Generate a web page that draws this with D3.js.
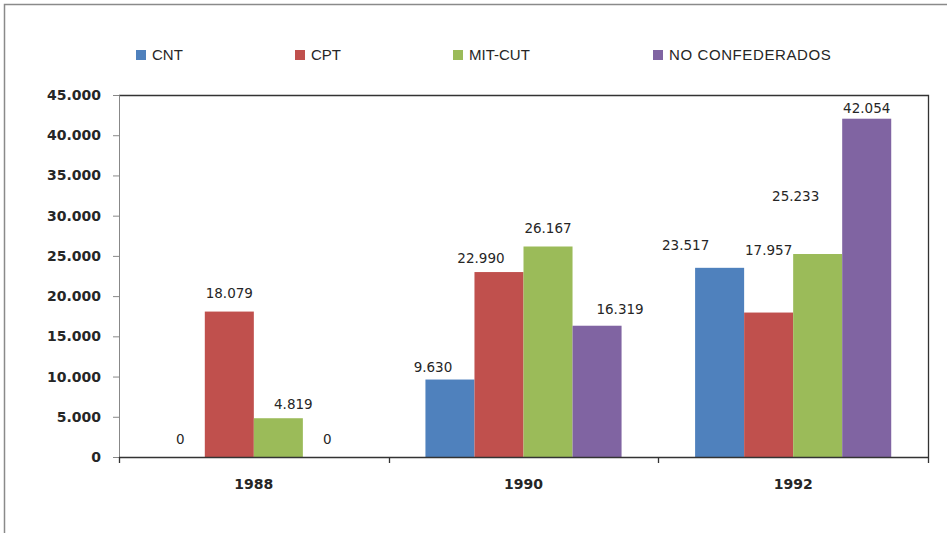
<!DOCTYPE html>
<html>
<head>
<meta charset="utf-8">
<script src="https://d3js.org/d3.v7.min.js"></script>
<style>
  body { margin: 0; background: #fff; }
  text { font-family: "DejaVu Sans", Verdana, sans-serif; }
</style>
</head>
<body>
<svg id="chart" width="947" height="533"></svg>
<script>
// data
var years = ["1988", "1990", "1992"];
var series = ["CNT", "CPT", "MIT-CUT", "NO CONFEDERADOS"];
var colors = ["#4F81BD", "#C0504D", "#9BBB59", "#8064A2"];
var cnt = [0, 9630, 23517];
var cpt = [18079, 22990, 17957];
var mitcut = [4819, 26167, 25233];
var noConf = [0, 16319, 42054];
var yTicks = [0, 5000, 10000, 15000, 20000, 25000, 30000, 35000, 40000, 45000];

// label nudges (px) - the original has some labels moved by hand
var labelDx = [[0, 0, 15, 0], [-17, -18, 0, 23], [-34, 0, -22, 0]];
var labelDy = [[-18, -18, -14, -18], [-12, -14, -18, -16], [-23, -62, -58, -10]];

var values = [cnt, cpt, mitcut, noConf];
var rows = [];
years.forEach(function(yr, i) {
  series.forEach(function(s, j) {
    rows.push({year: yr, yi: i, s: s, si: j, v: values[j][i]});
  });
});

var svg = d3.select("#chart");
var pLeft = 119, pRight = 928, pTop = 95, pBottom = 457;

// outer chart frame (cut at right/bottom like the picture)
svg.append("path")
  .attr("d", "M4.5,533 L4.5,4.5 L947,4.5")
  .attr("fill", "none").attr("stroke", "#8a8a8a").attr("stroke-width", 1.5);

var fmt = function(v) { return d3.format(",")(v).replace(/,/g, "."); };

var x0 = d3.scaleBand().domain(years).range([pLeft, pRight]).padding(0);
var x1 = d3.scaleBand().domain(series).range([0, x0.bandwidth()]).paddingInner(0).paddingOuter(0.75);
var y = d3.scaleLinear().domain([0, 45000]).range([pBottom, pTop]);

// plot area border top + right
svg.append("path")
  .attr("d", "M" + pLeft + "," + (pTop + 0.5) + " L" + (pRight + 0.5) + "," + (pTop + 0.5) + " L" + (pRight + 0.5) + "," + pBottom)
  .attr("fill", "none").attr("stroke", "#333").attr("stroke-width", 1.3);

// bars
svg.append("g").selectAll("rect").data(rows).enter().append("rect")
  .attr("x", function(d) { return x0(d.year) + x1(d.s); })
  .attr("y", function(d) { return y(d.v); })
  .attr("width", x1.bandwidth())
  .attr("height", function(d) { return pBottom - y(d.v); })
  .attr("fill", function(d) { return colors[d.si]; });

// y axis
var yAxis = svg.append("g").attr("transform", "translate(" + pLeft + ",0)")
  .call(d3.axisLeft(y).tickValues(yTicks).tickSize(6).tickPadding(12).tickFormat(fmt));
yAxis.select(".domain").attr("stroke", "#888");
yAxis.selectAll(".tick line").attr("stroke", "#888");
yAxis.selectAll(".tick text")
  .attr("fill", "#262626").style("font-size", "14px").style("font-weight", "bold")
  .style("font-family", "'DejaVu Sans', sans-serif");

// x axis: ticks at category boundaries
var xg = svg.append("g");
xg.append("line").attr("x1", pLeft).attr("x2", pRight + 1).attr("y1", pBottom + 0.5).attr("y2", pBottom + 0.5)
  .attr("stroke", "#333").attr("stroke-width", 1.3);
var bounds = years.map(function(d) { return x0(d); }).concat([pRight]);
xg.selectAll("line.tk").data(bounds).enter().append("line").attr("class", "tk")
  .attr("x1", function(d) { return Math.round(d) + 0.5; })
  .attr("x2", function(d) { return Math.round(d) + 0.5; })
  .attr("y1", pBottom).attr("y2", pBottom + 6)
  .attr("stroke", "#333").attr("stroke-width", 1.3);
xg.selectAll("text").data(years).enter().append("text")
  .attr("x", function(d) { return x0(d) + x0.bandwidth() / 2; })
  .attr("y", 489)
  .attr("text-anchor", "middle")
  .style("font-size", "14px").style("font-weight", "bold").attr("fill", "#262626")
  .text(function(d) { return d; });

// data labels
svg.append("g").selectAll("text").data(rows).enter().append("text")
  .attr("x", function(d) { return x0(d.year) + x1(d.s) + x1.bandwidth() / 2 + labelDx[d.yi][d.si]; })
  .attr("y", function(d) { return y(d.v) + labelDy[d.yi][d.si]; })
  .attr("dy", "0.35em")
  .attr("text-anchor", "middle")
  .style("font-size", "13.5px").attr("fill", "#262626")
  .text(function(d) { return fmt(d.v); });

// legend
var legX = [136, 295, 453, 653];
var leg = svg.append("g").selectAll("g").data(series).enter().append("g")
  .attr("transform", function(d, i) { return "translate(" + legX[i] + ",50)"; });
leg.append("rect").attr("width", 10).attr("height", 10)
  .attr("fill", function(d, i) { return colors[i]; });
leg.append("text").attr("x", 16).attr("y", 5).attr("dy", "0.36em")
  .style("font-family", "'Liberation Sans', Arial, sans-serif").style("font-size", "15px")
  .attr("fill", "#262626")
  .style("letter-spacing", function(d) { return d.length > 10 ? "0.6px" : "0"; })
  .text(function(d) { return d; });
</script>
</body>
</html>
